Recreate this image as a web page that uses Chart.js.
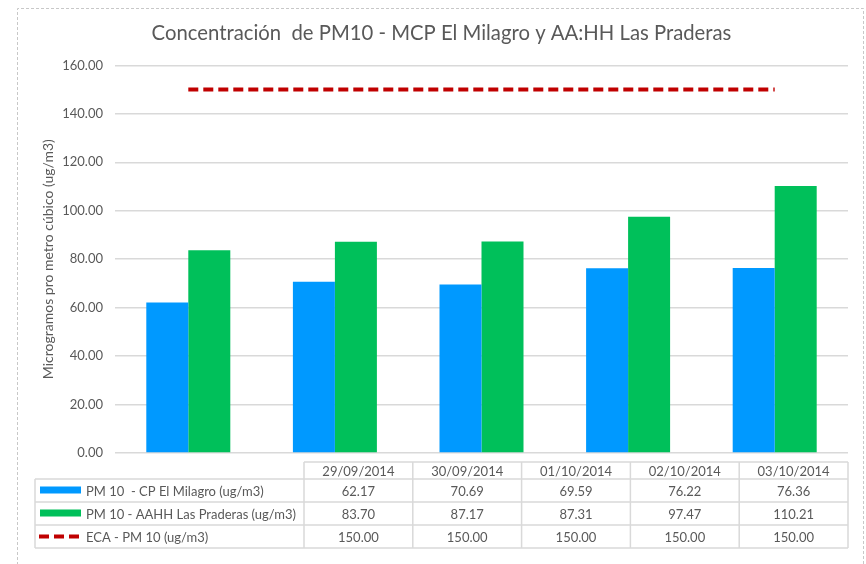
<!DOCTYPE html>
<html>
<head>
<meta charset="utf-8">
<script src="https://cdn.jsdelivr.net/npm/chart.js@4/dist/chart.umd.min.js"></script>
<style>
  body { margin: 0; background: #fff; }
</style>
</head>
<body>
<canvas id="graficoPM10" width="866" height="564"></canvas>
<script>
const fechas = ['29/09/2014', '30/09/2014', '01/10/2014', '02/10/2014', '03/10/2014'];
const pmMilagro = [62.17, 70.69, 69.59, 76.22, 76.36];
const pmPraderas = [83.70, 87.17, 87.31, 97.47, 110.21];
const ecaPM10 = [150.00, 150.00, 150.00, 150.00, 150.00];

const gris = '#595959';
const lineaTabla = '#d9d9d9';
const fuente = 'Lato, "Open Sans", sans-serif';

// marco punteado alrededor del gráfico
const marco = {
  id: 'marco',
  beforeDraw(chart) {
    const ctx = chart.ctx;
    ctx.save();
    ctx.strokeStyle = '#c8c8c8';
    ctx.lineWidth = 1;
    ctx.setLineDash([3, 2]);
    ctx.beginPath();
    ctx.moveTo(17.5, 570);
    ctx.lineTo(17.5, 8.5);
    ctx.lineTo(863.5, 8.5);
    ctx.lineTo(863.5, 570);
    ctx.stroke();
    ctx.restore();
  }
};

// tabla de datos debajo del eje X, con la leyenda en la primera columna
const tablaDatos = {
  id: 'tablaDatos',
  afterDraw(chart) {
    const ctx = chart.ctx;
    const area = chart.chartArea;
    const izq = 35;
    const colLeyenda = 304;
    const der = area.right;
    const anchoCol = (der - colLeyenda) / fechas.length;
    const yCab = area.bottom + 9;
    const altCab = 17;
    const altFila = 23;
    const yFilas = yCab + altCab;
    const datasets = chart.data.datasets;
    const yFin = yFilas + altFila * datasets.length;

    ctx.save();
    ctx.strokeStyle = lineaTabla;
    ctx.lineWidth = 1.5;
    ctx.beginPath();
    // cabecera
    ctx.moveTo(colLeyenda, yCab);
    ctx.lineTo(der, yCab);
    // filas
    for (let i = 0; i <= datasets.length; i++) {
      const y = yFilas + altFila * i;
      ctx.moveTo(izq, y);
      ctx.lineTo(der, y);
    }
    ctx.moveTo(izq, yFilas);
    ctx.lineTo(izq, yFin);
    for (let c = 0; c <= fechas.length; c++) {
      const x = colLeyenda + anchoCol * c;
      ctx.moveTo(x, yCab);
      ctx.lineTo(x, yFin);
    }
    ctx.stroke();

    ctx.fillStyle = gris;
    ctx.font = '13px ' + fuente;
    ctx.textBaseline = 'middle';
    ctx.textAlign = 'center';
    fechas.forEach((f, c) => {
      ctx.fillText(f, colLeyenda + anchoCol * (c + 0.5), yCab + altCab / 2 + 1);
    });

    datasets.forEach((ds, i) => {
      const yc = yFilas + altFila * (i + 0.5) + 1;
      // clave de la leyenda
      if (ds.type === 'line') {
        ctx.strokeStyle = ds.borderColor;
        ctx.lineWidth = 4;
        ctx.setLineDash([10, 5]);
        ctx.beginPath();
        ctx.moveTo(39, yc - 1);
        ctx.lineTo(81, yc - 1);
        ctx.stroke();
        ctx.setLineDash([]);
      } else {
        ctx.fillStyle = ds.backgroundColor;
        ctx.fillRect(40, yc - 5, 41, 7);
      }
      ctx.fillStyle = gris;
      ctx.textAlign = 'left';
      ctx.fillText(ds.label, 86, yc);
      ctx.textAlign = 'center';
      ds.data.forEach((v, c) => {
        ctx.fillText(v.toFixed(2), colLeyenda + anchoCol * (c + 0.5), yc);
      });
    });
    ctx.restore();
  }
};

const ctx = document.getElementById('graficoPM10').getContext('2d');

new Chart(ctx, {
  type: 'bar',
  data: {
    labels: fechas,
    datasets: [
      {
        label: 'PM 10  - CP El Milagro (ug/m3)',
        data: pmMilagro,
        backgroundColor: '#0099ff',
        barPercentage: 1,
        categoryPercentage: 0.573
      },
      {
        label: 'PM 10 - AAHH Las Praderas (ug/m3)',
        data: pmPraderas,
        backgroundColor: '#00c05a',
        barPercentage: 1,
        categoryPercentage: 0.573
      },
      {
        type: 'line',
        label: 'ECA - PM 10 (ug/m3)',
        data: ecaPM10,
        borderColor: '#c00000',
        borderWidth: 4,
        borderDash: [10, 5],
        pointRadius: 0,
        fill: false
      }
    ]
  },
  options: {
    responsive: false,
    animation: false,
    layout: {
      padding: { left: 35, right: 18, top: 0, bottom: 111 }
    },
    plugins: {
      legend: { display: false },
      tooltip: { enabled: false },
      title: {
        display: true,
        text: 'Concentración  de PM10 - MCP El Milagro y AA:HH Las Praderas',
        color: gris,
        font: { family: fuente, size: 20.3, weight: 'normal' },
        padding: { top: 21, bottom: 20 }
      }
    },
    scales: {
      x: {
        display: false
      },
      y: {
        min: 0,
        max: 160,
        afterFit(scale) { scale.width = 80; },
        ticks: {
          stepSize: 20,
          color: gris,
          padding: 12,
          font: { family: fuente, size: 13 },
          callback: v => v.toFixed(2)
        },
        grid: {
          color: lineaTabla,
          lineWidth: 1.5,
          drawTicks: false
        },
        border: { display: false },
        title: {
          display: true,
          text: 'Microgramos pro metro cúbico (ug/m3)',
          color: gris,
          font: { family: fuente, size: 14 },
          padding: { top: 5, bottom: 0 }
        }
      }
    }
  },
  plugins: [marco, tablaDatos]
});
</script>
</body>
</html>
